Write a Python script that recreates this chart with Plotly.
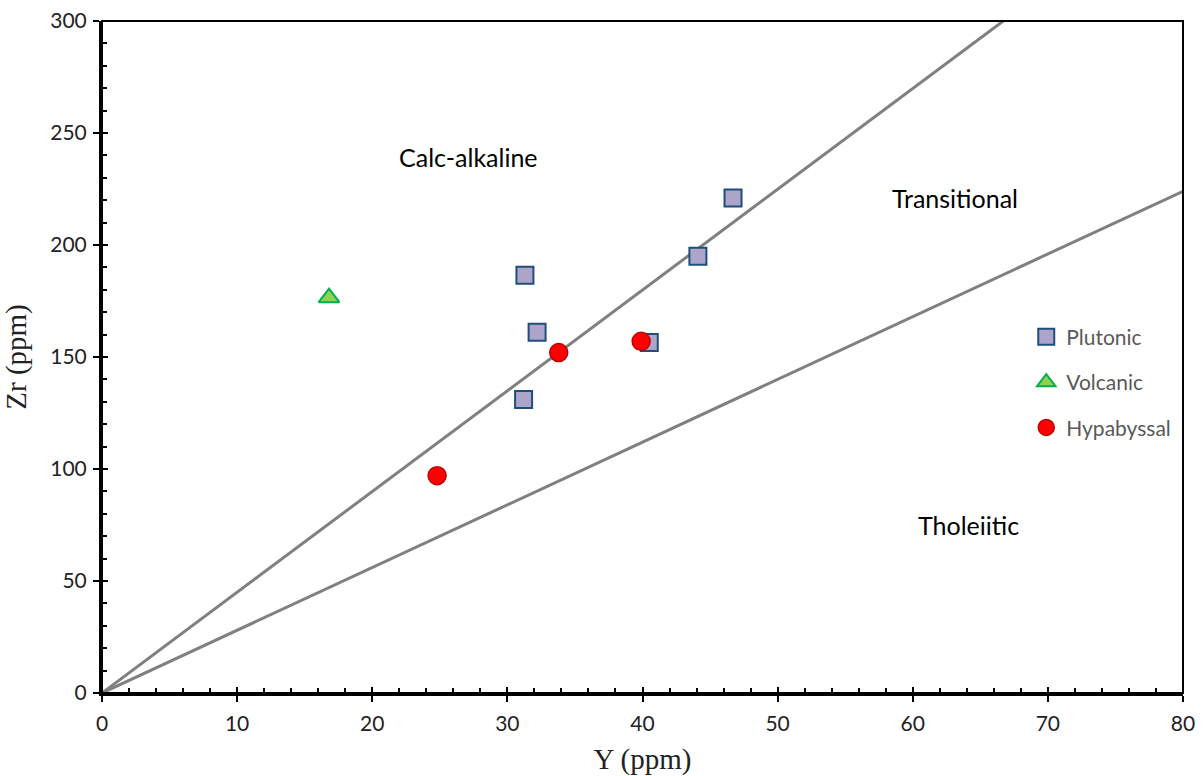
import plotly.graph_objects as go

# Data (Y ppm, Zr ppm)
plutonic_y = [31.3, 32.2, 31.2, 40.5, 44.1, 46.7]
plutonic_zr = [186.5, 161.0, 131.0, 156.5, 195.0, 221.0]
volcanic_y = [16.8]
volcanic_zr = [176.5]
hypabyssal_y = [24.8, 33.8, 39.9]
hypabyssal_zr = [97.0, 152.0, 157.0]

# Discrimination boundary lines (Zr/Y ratios)
line1_y = [0, 66.7]
line1_zr = [0, 300]
line2_y = [0, 80]
line2_zr = [0, 224]

field_labels = ["Calc-alkaline", "Transitional", "Tholeiitic"]
field_label_y = [27.1, 63.1, 64.1]
field_label_zr = [239.5, 221.0, 75.0]

fig = go.Figure()

for xs, ys in [(line1_y, line1_zr), (line2_y, line2_zr)]:
    fig.add_trace(go.Scatter(x=xs, y=ys, mode="lines",
                             line=dict(color="#808080", width=3),
                             showlegend=False, hoverinfo="skip"))

fig.add_trace(go.Scatter(x=plutonic_y, y=plutonic_zr, mode="markers", name="Plutonic",
                         legendgroup="a",
                         marker=dict(symbol="square", size=17, color="#ADA4CC",
                                     line=dict(color="#1F4E79", width=2))))
fig.add_trace(go.Scatter(x=volcanic_y, y=volcanic_zr, mode="markers", name="Volcanic",
                         legendgroup="b",
                         marker=dict(symbol="triangle-up", size=18, color="#92D050",
                                     line=dict(color="#00B050", width=2))))
fig.add_trace(go.Scatter(x=hypabyssal_y, y=hypabyssal_zr, mode="markers", name="Hypabyssal",
                         legendgroup="c",
                         marker=dict(symbol="circle", size=18, color="#FF0000",
                                     line=dict(color="#C00000", width=1.5))))

for t, xv, yv in zip(field_labels, field_label_y, field_label_zr):
    fig.add_annotation(x=xv, y=yv, text=t, showarrow=False,
                       font=dict(family="Lato", size=25, color="#000000"))

tickfont = dict(family="Lato", size=21, color="#222222")
titlefont = dict(family="Liberation Serif", size=29, color="#222222")

fig.update_layout(
    width=1204, height=776,
    margin=dict(l=102, r=21, t=21, b=83),
    paper_bgcolor="white", plot_bgcolor="white",
    showlegend=True,
    legend=dict(x=0.855, y=0.56, xanchor="left", yanchor="top",
                font=dict(family="Lato", size=21, color="#595959"),
                tracegroupgap=15, bgcolor="rgba(0,0,0,0)", itemwidth=30),
    xaxis=dict(range=[0, 80], dtick=10, tick0=0, showgrid=False, zeroline=False,
               showline=True, linecolor="black", linewidth=3, automargin=False,
               ticks="outside", ticklen=6, tickwidth=2, tickcolor="black",
               tickfont=tickfont, ticklabelstandoff=4,
               minor=dict(dtick=2, ticks="inside", ticklen=5, tickwidth=1.5,
                          tickcolor="black", showgrid=False),
               title=dict(text="Y (ppm)", standoff=16, font=titlefont)),
    yaxis=dict(range=[0, 300], dtick=50, tick0=0, showgrid=False, zeroline=False,
               showline=True, linecolor="black", linewidth=3, automargin=False,
               ticks="outside", ticklen=6, tickwidth=2, tickcolor="black",
               tickfont=tickfont, ticklabelstandoff=2,
               minor=dict(dtick=10, ticks="inside", ticklen=5, tickwidth=1.5,
                          tickcolor="black", showgrid=False),
               title=dict(text="Zr (ppm)", standoff=20, font=titlefont)),
    xaxis2=dict(overlaying="x", matches="x", side="bottom", anchor="y",
                range=[0, 80], dtick=10, tick0=0, showgrid=False, zeroline=False,
                showline=False, ticks="inside", ticklen=6, tickwidth=2,
                tickcolor="black", showticklabels=False),
    yaxis2=dict(overlaying="y", matches="y", side="left", anchor="x",
                range=[0, 300], dtick=50, tick0=0, showgrid=False, zeroline=False,
                showline=False, ticks="inside", ticklen=6, tickwidth=2,
                tickcolor="black", showticklabels=False),
)

# invisible trace to activate overlay axes
fig.add_trace(go.Scatter(x=[0], y=[0], xaxis="x2", yaxis="y2", mode="markers",
                         marker=dict(opacity=0), showlegend=False, hoverinfo="skip"))

fig.add_shape(type="rect", xref="x domain", yref="y domain", x0=0, x1=1, y0=0, y1=1,
              line=dict(color="black", width=2), layer="above")

fig.write_html("out.html")
